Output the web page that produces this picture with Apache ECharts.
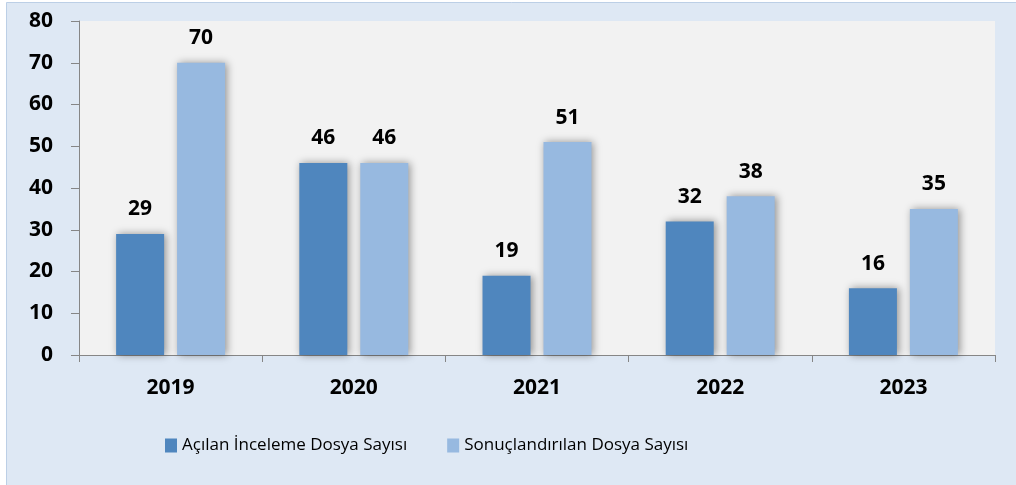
<!DOCTYPE html>
<html>
<head>
<meta charset="utf-8">
<script src="https://cdn.jsdelivr.net/npm/echarts@6/dist/echarts.min.js"></script>
<style>
  html, body { margin: 0; padding: 0; background: #fff; }
  #chart { width: 1016px; height: 485px; }
</style>
</head>
<body>
<div id="chart"></div>
<script>
  var years = ['2019', '2020', '2021', '2022', '2023']
  var openedFiles = [29, 46, 19, 32, 16]
  var concludedFiles = [70, 46, 51, 38, 35]
  var seriesNames = ['Açılan İnceleme Dosya Sayısı', 'Sonuçlandırılan Dosya Sayısı']
  var seriesColors = ['#4F86BE', '#97B9E0']

  var chart = echarts.init(document.getElementById('chart'))

  // each series gets its own label/item objects
  function barSeries(name, values, color) {
    return {
      name: name,
      type: 'bar',
      data: values,
      barWidth: 48,
      barGap: '27%',
      itemStyle: {
        color: color,
        shadowColor: 'rgba(0,0,0,0.4)',
        shadowBlur: 8,
        shadowOffsetX: 2
      },
      label: {
        show: true,
        position: 'top',
        distance: 14,
        color: '#000',
        fontFamily: 'Open Sans',
        fontWeight: 'bold',
        fontSize: 21
      }
    }
  }

  chart.setOption({
    backgroundColor: '#fff',
    animation: false,
    graphic: [{
      type: 'rect',
      z: -10,
      silent: true,
      shape: { x: 6.5, y: 2.5, width: 1012, height: 485 },
      style: { fill: '#DEE8F4', stroke: '#BCCFE6', lineWidth: 1 }
    }],
    legend: {
      bottom: 26,
      left: 160,
      itemWidth: 12,
      itemHeight: 14,
      itemGap: 40,
      icon: 'rect',
      textStyle: { fontFamily: 'Open Sans', fontSize: 17, color: '#000' },
      data: seriesNames
    },
    grid: {
      left: 79,
      right: 21,
      top: 21,
      bottom: 130,
      show: true,
      backgroundColor: '#F2F2F2',
      borderWidth: 0
    },
    xAxis: {
      type: 'category',
      data: years,
      axisLine: { lineStyle: { color: '#868686' } },
      axisTick: { show: true, length: 7, lineStyle: { color: '#868686' } },
      axisLabel: {
        color: '#000',
        fontFamily: 'Open Sans',
        fontWeight: 'bold',
        fontSize: 21,
        margin: 23
      }
    },
    yAxis: {
      type: 'value',
      min: 0,
      max: 80,
      interval: 10,
      splitLine: { show: false },
      axisLine: { show: true, lineStyle: { color: '#868686' } },
      axisTick: { show: true, length: 8, lineStyle: { color: '#868686' } },
      axisLabel: {
        color: '#000',
        fontFamily: 'Open Sans',
        fontWeight: 'bold',
        fontSize: 21,
        margin: 26
      }
    },
    series: [
      barSeries(seriesNames[0], openedFiles, seriesColors[0]),
      barSeries(seriesNames[1], concludedFiles, seriesColors[1])
    ]
  })
</script>
</body>
</html>
